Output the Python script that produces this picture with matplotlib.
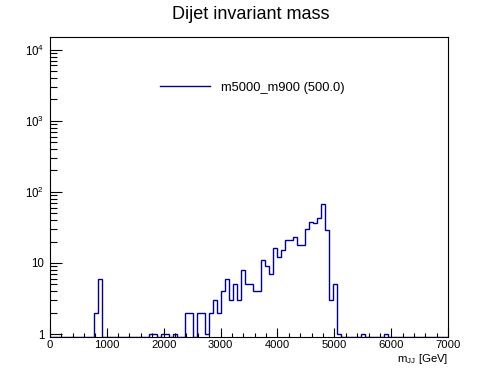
import matplotlib
matplotlib.use('Agg')
import matplotlib.pyplot as plt
from matplotlib.ticker import FixedLocator, FixedFormatter, NullFormatter
import numpy as np

plt.rcParams['font.family'] = ['Liberation Sans', 'DejaVu Sans']
plt.rcParams['mathtext.fontset'] = 'custom'
plt.rcParams['mathtext.rm'] = 'Liberation Sans'
plt.rcParams['mathtext.it'] = 'Liberation Sans:italic'

# histogram: 100 bins of 70 GeV from 0 to 7000
bin_edges = np.linspace(0, 7000, 101)
# non-empty bins: index -> entries
filled_bins = [11, 12, 25, 26, 28, 29, 31,
               34, 35, 36, 37, 38, 39, 40, 41, 42, 43, 44, 45, 46, 47,
               48, 49, 50, 51, 52, 53, 54, 55, 56, 57, 58, 59, 60, 61, 62,
               63, 64, 65, 66, 67, 68, 69, 70, 71, 72, 78, 84]
filled_counts = [2, 6, 1, 1, 1, 1, 1,
                 2, 2, 0, 2, 2, 1, 2, 3, 2, 4, 6, 3, 5, 3,
                 8, 5, 5, 4, 4, 11, 9, 7, 16, 12, 15, 21, 21, 23, 18,
                 18, 30, 38, 36, 43, 68, 29, 3, 5, 1, 1, 1]
legend_label = 'm5000_m900 (500.0)'
x_ticks = [0, 1000, 2000, 3000, 4000, 5000, 6000, 7000]
y_ticks = [1, 10, 100, 1000, 10000]
y_tick_labels = ['1', '10', '$10^{2}$', '$10^{3}$', '$10^{4}$']

ymin, ymax = 0.92, 1.49e4
hist_color = '#000099'

counts = np.zeros(100)
counts[filled_bins] = filled_counts
# empty bins are drawn at the bottom of the frame, like ROOT does
draw_counts = np.where(counts > 0, counts, ymin)

fig = plt.figure(figsize=(4.98, 3.74), dpi=100)
ax = fig.add_axes([0.1, 0.1, 0.8, 0.8])

ax.stairs(draw_counts, bin_edges, color=hist_color, linewidth=1.0, label=legend_label)

ax.set_yscale('log')
ax.set_xlim(0, 7000)
ax.set_ylim(ymin, ymax)

ax.xaxis.set_major_locator(FixedLocator(x_ticks))
ax.xaxis.set_minor_locator(FixedLocator(np.arange(0, 7001, 200)))
ax.yaxis.set_major_locator(FixedLocator(y_ticks))
minor_y = [m * 10**d for d in range(0, 4) for m in range(2, 10)]
ax.yaxis.set_minor_locator(FixedLocator(minor_y))
ax.yaxis.set_major_formatter(FixedFormatter(y_tick_labels))
ax.yaxis.set_minor_formatter(NullFormatter())

ax.tick_params(axis='x', which='major', direction='in', length=6.5, width=0.8,
               labelsize=8.1, pad=2.5, top=False)
ax.tick_params(axis='x', which='minor', direction='in', length=3.2, width=0.8, top=False)
ax.tick_params(axis='y', which='major', direction='in', length=8.9, width=0.8,
               labelsize=8.3, pad=4, right=False)
ax.tick_params(axis='y', which='minor', direction='in', length=4.8, width=0.8, right=False)
for s in ax.spines.values():
    s.set_linewidth(0.8)

fig.text(0.503, 1 - 14.5 / 374, 'Dijet invariant mass', ha='center', va='center', fontsize=13)
fig.text(0.9, 1 - 359 / 374, r'$\mathrm{m}_{\mathrm{JJ}}$ [GeV]', ha='right', va='center', fontsize=8.2)

ax.legend(loc='center left', bbox_to_anchor=(160 / 498, 1 - 87.5 / 374),
          bbox_transform=fig.transFigure, frameon=False, fontsize=9.3,
          handlelength=3.9, handletextpad=0.8, borderpad=0, borderaxespad=0)

fig.savefig('out.png', dpi=100)
